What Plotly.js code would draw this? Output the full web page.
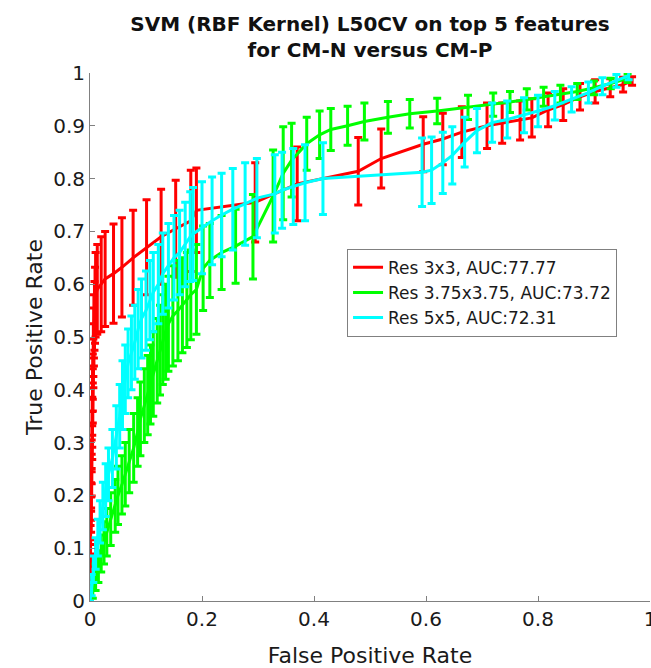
<!DOCTYPE html>
<html>
<head>
<meta charset="utf-8">
<script src="https://cdn.plot.ly/plotly-3.0.1.min.js"></script>
<style>
  html, body { margin: 0; padding: 0; background: #fff; }
  #chart { width: 651px; height: 668px; }
</style>
</head>
<body>
<div id="chart"></div>
<script>
// ---- Data ----
const seriesNames = ['Res 3x3, AUC:77.77', 'Res 3.75x3.75, AUC:73.72', 'Res 5x5, AUC:72.31'];

const redX = [0.000,0.000,0.000,0.001,0.001,0.001,0.002,0.002,0.002,0.003,
              0.003,0.003,0.004,0.004,0.004,0.005,0.005,0.005,0.006,0.006,
              0.007,0.007,0.008,0.009,0.010,
              0.013,0.020,0.027,0.042,0.057,0.077,0.101,0.127,0.153,0.180,
              0.190,0.295,0.370,0.479,0.520,0.595,0.630,0.664,0.709,0.736,
              0.768,0.789,0.818,0.845,0.875,0.902,0.929,0.952,0.968];
const redY = [0.00,0.025,0.05,0.075,0.10,0.125,0.15,0.175,0.20,0.225,
              0.25,0.275,0.30,0.325,0.35,0.375,0.40,0.425,0.45,0.475,
              0.50,0.52,0.54,0.56,0.58,
              0.59,0.60,0.61,0.62,0.632,0.65,0.67,0.69,0.705,0.72,
              0.74,0.755,0.79,0.814,0.838,0.865,0.875,0.888,0.90,0.905,
              0.91,0.915,0.93,0.94,0.955,0.965,0.972,0.978,0.985];
const redErr = [0,0.01,0.012,0.014,0.016,0.018,0.02,0.022,0.024,0.026,
                0.028,0.03,0.032,0.034,0.036,0.038,0.04,0.043,0.046,0.05,
                0.055,0.06,0.065,0.072,0.08,
                0.085,0.09,0.09,0.094,0.094,0.09,0.09,0.09,0.092,0.096,
                0.08,0.075,0.07,0.064,0.056,0.052,0.049,0.048,0.043,0.038,
                0.037,0.036,0.032,0.03,0.025,0.022,0.017,0.014,0.008];

const greenX = [0,0.005,0.01,0.015,0.02,0.025,0.03,0.037,0.045,0.05,
                0.057,0.063,0.07,0.078,0.085,0.09,0.097,0.103,0.108,0.113,
                0.12,0.125,0.13,0.135,0.14,0.148,0.157,0.165,0.173,0.18,
                0.19,0.202,0.214,0.235,0.26,0.291,0.327,0.345,0.36,0.387,
                0.41,0.43,0.46,0.49,0.532,0.571,0.62,0.675,0.72,0.75,
                0.78,0.81,0.84,0.87,0.9,0.93,0.96];
const greenY = [0,0.025,0.045,0.065,0.09,0.11,0.13,0.155,0.18,0.2,
                0.22,0.24,0.265,0.29,0.32,0.345,0.37,0.39,0.41,0.43,
                0.455,0.475,0.495,0.51,0.525,0.54,0.55,0.56,0.57,0.58,
                0.59,0.63,0.645,0.66,0.672,0.69,0.767,0.81,0.835,0.866,
                0.883,0.893,0.90,0.908,0.916,0.923,0.928,0.935,0.94,0.945,
                0.95,0.955,0.96,0.965,0.972,0.98,0.99];
const greenErr = [0,0.02,0.025,0.03,0.035,0.04,0.045,0.05,0.05,0.055,
                  0.055,0.06,0.06,0.065,0.065,0.07,0.07,0.075,0.075,0.08,
                  0.08,0.085,0.085,0.09,0.09,0.095,0.095,0.09,0.09,0.085,
                  0.085,0.08,0.07,0.07,0.07,0.08,0.087,0.088,0.07,0.05,
                  0.045,0.04,0.037,0.035,0.03,0.027,0.024,0.023,0.022,0.02,
                  0.02,0.018,0.017,0.015,0.013,0.01,0.008];

const cyanX = [0,0.003,0.006,0.01,0.014,0.018,0.023,0.028,0.033,0.04,
               0.047,0.053,0.058,0.063,0.068,0.074,0.08,0.086,0.092,0.1,
               0.107,0.113,0.122,0.13,0.14,0.15,0.16,0.17,0.179,0.184,
               0.2,0.218,0.235,0.255,0.277,0.298,0.33,0.343,0.363,0.384,
               0.416,0.593,0.61,0.63,0.647,0.669,0.691,0.718,0.745,0.775,
               0.8,0.83,0.86,0.89,0.915,0.94,0.962];
const cyanY = [0,0.03,0.06,0.09,0.12,0.15,0.18,0.21,0.24,0.27,
               0.31,0.35,0.39,0.42,0.45,0.47,0.49,0.515,0.535,0.55,
               0.57,0.585,0.60,0.62,0.635,0.65,0.66,0.675,0.69,0.695,
               0.707,0.72,0.731,0.742,0.752,0.763,0.771,0.778,0.785,0.792,
               0.80,0.812,0.816,0.83,0.844,0.869,0.891,0.906,0.912,0.92,
               0.928,0.938,0.95,0.963,0.975,0.985,0.995];
const cyanErr = [0,0.02,0.025,0.03,0.035,0.04,0.045,0.05,0.05,0.055,
                 0.06,0.06,0.065,0.065,0.065,0.07,0.07,0.075,0.075,0.075,
                 0.075,0.075,0.075,0.077,0.08,0.08,0.08,0.08,0.085,0.088,
                 0.087,0.083,0.079,0.077,0.078,0.075,0.074,0.072,0.072,0.072,
                 0.068,0.065,0.063,0.058,0.054,0.047,0.042,0.037,0.035,0.033,
                 0.03,0.027,0.024,0.02,0.016,0.012,0.008];

const xTickVals = [0, 0.2, 0.4, 0.6, 0.8, 1];
const xTickText = ['0', '0.2', '0.4', '0.6', '0.8', '1'];
const yTickVals = [0, 0.1, 0.2, 0.3, 0.4, 0.5, 0.6, 0.7, 0.8, 0.9, 1];
const yTickText = ['0', '0.1', '0.2', '0.3', '0.4', '0.5', '0.6', '0.7', '0.8', '0.9', '1'];

// ---- Styles ----
const colors = ['#ff0000', '#00ff00', '#00ffff'];
const FONT = 'DejaVu Sans, Liberation Sans, Arial, sans-serif';

function makeTrace(x, y, err, name, color) {
  return {
    type: 'scatter', mode: 'lines', name: name, x: x, y: y,
    line: { color: color, width: 3 },
    error_y: { type: 'data', array: err, visible: true, color: color, thickness: 3, width: 4 },
    hoverinfo: 'skip'
  };
}

const data = [
  makeTrace(redX, redY, redErr, seriesNames[0], colors[0]),
  makeTrace(greenX, greenY, greenErr, seriesNames[1], colors[1]),
  makeTrace(cyanX, cyanY, cyanErr, seriesNames[2], colors[2])
];

const axisCommon = {
  range: [0, 1], showgrid: false, zeroline: false, showline: true, mirror: false,
  linecolor: '#808080', linewidth: 1, ticks: 'inside', ticklen: 5, tickcolor: '#808080',
  tickfont: { family: FONT, size: 20, color: '#1a1a1a' }, fixedrange: true,
  ticklabeloverflow: 'allow'
};

const layout = {
  width: 651, height: 668,
  margin: { l: 90, r: 1, t: 73, b: 67 },
  paper_bgcolor: '#ffffff', plot_bgcolor: '#ffffff',
  font: { family: FONT, color: '#1a1a1a' },
  title: {
    text: '<b>SVM (RBF Kernel) L50CV on top 5 features<br>for CM-N versus CM-P</b>',
    font: { family: FONT, size: 20, color: '#111' },
    x: 0.5, xref: 'paper', xanchor: 'center',
    y: 0.954, yref: 'container', yanchor: 'top'
  },
  xaxis: Object.assign({}, axisCommon, {
    tickmode: 'array', tickvals: xTickVals, ticktext: xTickText,
    title: { text: 'False Positive Rate', font: { family: FONT, size: 22, color: '#1a1a1a' }, standoff: 20 }
  }),
  yaxis: Object.assign({}, axisCommon, {
    tickmode: 'array', tickvals: yTickVals, ticktext: yTickText,
    title: { text: 'True Positive Rate', font: { family: FONT, size: 22, color: '#1a1a1a' }, standoff: 4 }
  }),
  showlegend: true,
  legend: {
    x: 0.459, y: 0.667, xanchor: 'left', yanchor: 'top',
    bgcolor: '#ffffff', bordercolor: '#808080', borderwidth: 1,
    font: { family: FONT, size: 17, color: '#1a1a1a' },
    tracegroupgap: 0, itemwidth: 30
  }
};

Plotly.newPlot('chart', data, layout, { staticPlot: true, displayModeBar: false });
</script>
</body>
</html>
